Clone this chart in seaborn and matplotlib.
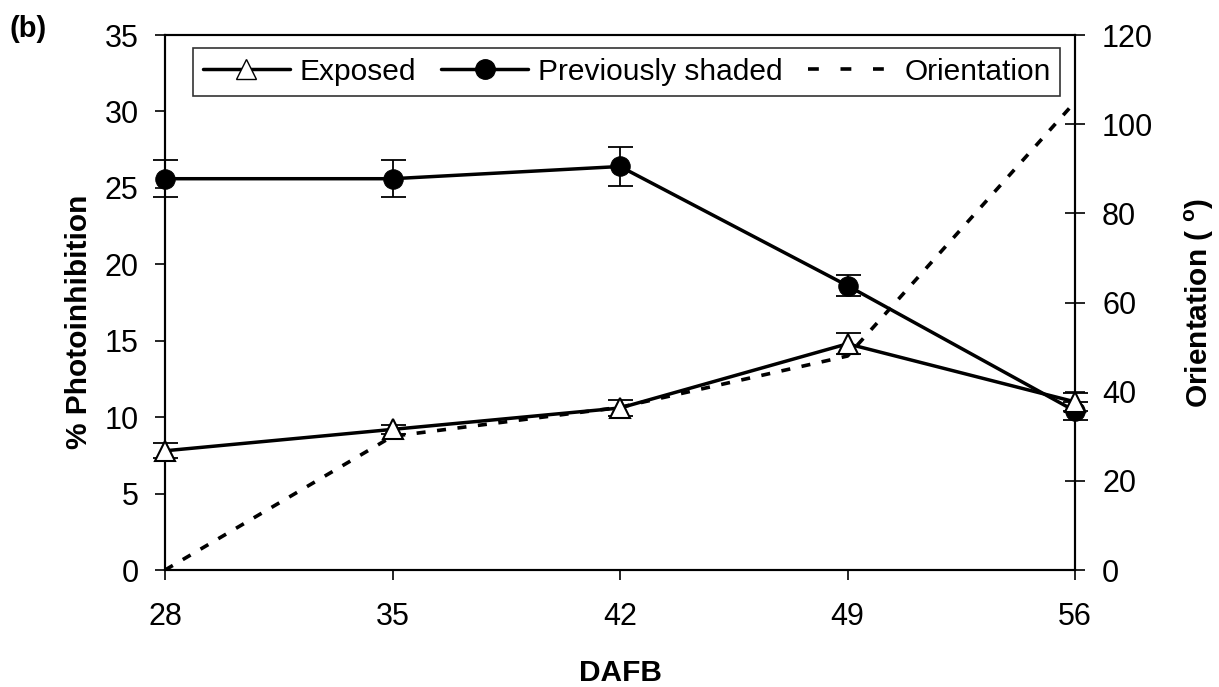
import pandas as pd
import matplotlib.pyplot as plt
import seaborn as sns
from matplotlib.lines import Line2D

# ---------------------------------------------------------
# Data
# ---------------------------------------------------------
dafb = [28, 35, 42, 49, 56]
exposed = [7.8, 9.2, 10.6, 14.8, 11.0]
exposed_err = [0.5, 0.3, 0.5, 0.7, 0.6]
shaded = [25.6, 25.6, 26.4, 18.6, 10.4]
shaded_err = [1.2, 1.2, 1.3, 0.7, 0.6]
orientation = [0, 30, 36.5, 48, 105]

df = pd.DataFrame({"DAFB": dafb, "Exposed": exposed, "Shaded": shaded,
                   "Orientation": orientation})

# ---------------------------------------------------------
# Plot
# ---------------------------------------------------------
sns.set_style("white")
plt.rcParams["font.family"] = ["Liberation Sans", "DejaVu Sans"]
plt.rcParams["text.color"] = "black"
plt.rcParams["axes.labelcolor"] = "black"
plt.rcParams["xtick.color"] = "black"
plt.rcParams["ytick.color"] = "black"

fig = plt.figure(figsize=(12.19, 6.87), dpi=100)
ax = fig.add_axes([0.1354, 0.1703, 0.7465, 0.7787])
ax2 = ax.twinx()

dash = (0, (2.5, 3.2))

# orientation on the right axis
sns.lineplot(data=df, x="DAFB", y="Orientation", ax=ax2, color="black",
             linewidth=2.6, linestyle=dash, zorder=1)

# photoinhibition series
ax.errorbar(dafb, shaded, yerr=shaded_err, fmt="none", ecolor="black",
            elinewidth=1.3, capsize=9, capthick=1.3, zorder=3, clip_on=False)
ax.errorbar(dafb, exposed, yerr=exposed_err, fmt="none", ecolor="black",
            elinewidth=1.3, capsize=9, capthick=1.3, zorder=3, clip_on=False)
sns.lineplot(data=df, x="DAFB", y="Shaded", ax=ax, color="black",
             linewidth=2.5, marker="o", markersize=14, markerfacecolor="black",
             markeredgecolor="black", zorder=4, clip_on=False)
sns.lineplot(data=df, x="DAFB", y="Exposed", ax=ax, color="black",
             linewidth=2.5, marker="^", markersize=14, markerfacecolor="white",
             markeredgecolor="black", markeredgewidth=1.5, zorder=5,
             clip_on=False)

ax.set_zorder(ax2.get_zorder() + 1)
ax.patch.set_visible(False)

ax.set_xlim(28, 56)
ax.set_ylim(0, 35)
ax2.set_ylim(0, 120)
ax.set_xticks(dafb)
ax.set_yticks(range(0, 36, 5))
ax2.set_yticks(range(0, 121, 20))

ax.tick_params(axis="y", labelsize=22, direction="out", length=7, width=1.2,
               color="black", labelcolor="black", pad=12, left=True)
ax.tick_params(axis="x", labelsize=22, direction="out", length=7, width=1.2,
               color="black", labelcolor="black", pad=16, bottom=True)
ax2.tick_params(axis="y", labelsize=22, direction="inout", length=14, width=1.2,
                color="black", labelcolor="black", pad=12.5, right=True)

for a in (ax, ax2):
    for s in a.spines.values():
        s.set_color("black")
        s.set_linewidth(1.5)

ax.set_xlabel("DAFB", fontsize=21.5, fontweight="bold")
ax.xaxis.set_label_coords(0.5, -0.166)
ax.set_ylabel("% Photoinhibition", fontsize=21.5, fontweight="bold")
ax.yaxis.set_label_coords(-0.079, 0.4636)
ax2.set_ylabel("Orientation ( $^{\\mathregular{o}}$)", fontsize=21.5,
               fontweight="bold")
ax2.yaxis.set_label_coords(1.119, 0.499)

fig.text(0.008, 0.946, "(b)", fontsize=21, fontweight="bold", va="baseline")

handles = [
    Line2D([], [], color="black", linewidth=2.5, marker="^", markersize=14,
           markerfacecolor="white", markeredgecolor="black"),
    Line2D([], [], color="black", linewidth=2.5, marker="o", markersize=14,
           markerfacecolor="black"),
    Line2D([], [], color="black", linewidth=2.6, linestyle=(0, (3, 6))),
]
leg = ax.legend(handles, ["Exposed", "Previously shaded", "Orientation"],
                loc="upper left", bbox_to_anchor=(0.0308, 0.9757), ncol=3,
                fontsize=21.5, frameon=True, fancybox=False,
                handlelength=2.9, handletextpad=0.33, columnspacing=0.85,
                borderpad=0.33, borderaxespad=0)
leg.get_frame().set_edgecolor("black")
leg.get_frame().set_linewidth(1.2)

fig.savefig("out.png", dpi=100)
plt.close()
